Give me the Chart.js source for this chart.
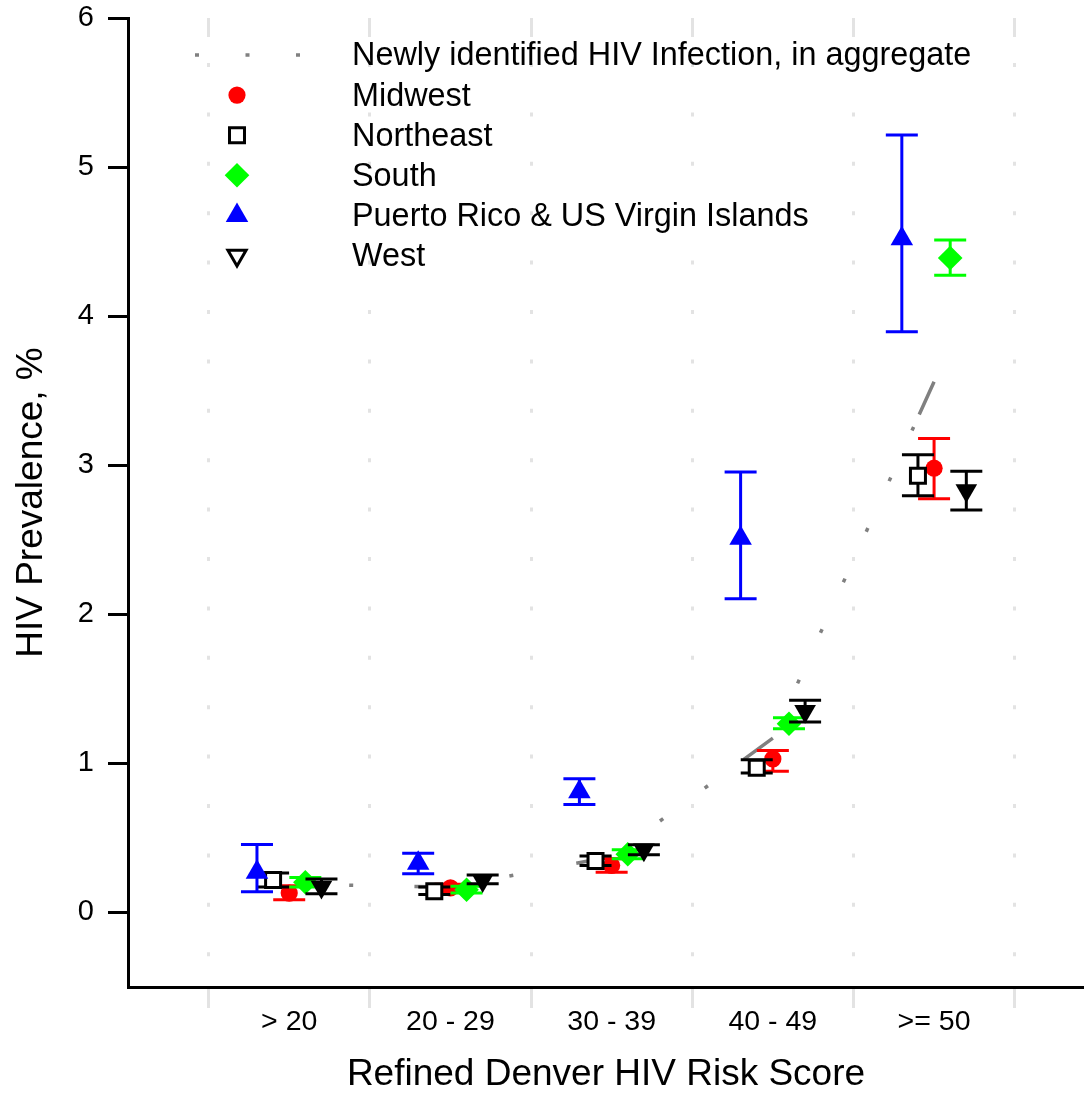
<!DOCTYPE html>
<html>
<head>
<meta charset="utf-8">
<script src="https://cdn.jsdelivr.net/npm/chart.js@4.4.1/dist/chart.umd.min.js"></script>
<style>
  html, body { margin: 0; padding: 0; background: #fff; }
</style>
</head>
<body>
<canvas id="chart" width="1084" height="1093"></canvas>
<script>
const categories = ['> 20', '20 - 29', '30 - 39', '40 - 49', '>= 50'];
const xTickValues = [0.5, 1, 1.5, 2, 2.5, 3, 3.5, 4, 4.5, 5, 5.5];
const yTickValues = [0, 1, 2, 3, 4, 5, 6];

const aggregate = [0.19, 0.17, 0.375, 1.17, 3.56];

const midwest = [0.13, 0.165, 0.315, 1.03, 2.98];
const midwestLow = [0.085, 0.14, 0.27, 0.948, 2.775];
const midwestHigh = [0.18, 0.19, 0.36, 1.087, 3.18];

const northeast = [0.218, 0.143, 0.345, 0.971, 2.93];
const northeastLow = [0.17, 0.12, 0.315, 0.935, 2.795];
const northeastHigh = [0.264, 0.17, 0.378, 1.025, 3.07];

const south = [0.203, 0.152, 0.39, 1.266, 4.39];
const southLow = [0.17, 0.13, 0.36, 1.232, 4.275];
const southHigh = [0.235, 0.175, 0.42, 1.306, 4.51];

const puertoRico = [0.27, 0.33, 0.81, 2.51, 4.52];
const puertoRicoLow = [0.139, 0.26, 0.725, 2.105, 3.895];
const puertoRicoHigh = [0.456, 0.398, 0.897, 2.955, 5.215];

const west = [0.17, 0.215, 0.42, 1.35, 2.83];
const westLow = [0.125, 0.192, 0.387, 1.277, 2.70];
const westHigh = [0.225, 0.252, 0.454, 1.423, 2.96];

Chart.defaults.font.family = "'Liberation Sans', Arial, Helvetica, sans-serif";
Chart.defaults.color = '#000';

// dotted grid: short piece at the top, then small dots
const gridDash = [19, 26];
for (let i = 0; i < 22; i++) gridDash.push(4, 45.4);

const gridColor = c => (c.tick && c.tick.value % 1 !== 0) ? '#e3e3e3' : 'rgba(0,0,0,0)';

// each segment of the aggregate line: sparse dots, then a short solid piece
function aggregateDash(ctx) {
    const len = Math.hypot(ctx.p1.x - ctx.p0.x, ctx.p1.y - ctx.p0.y);
    const solid = 36, dot = 4, step = 55.5;
    const dash = [0, 60];
    let pos = 60;
    while (pos + step + dot <= len - solid - 10) {
        dash.push(dot, step - dot);
        pos += step;
    }
    dash.push(dot, Math.max(len - solid - pos - dot, 0), solid, 2000);
    return dash;
}

function markerDataset(label, values, low, high, offset, style) {
    return {
        label: label,
        data: values.map((v, i) => ({ x: i + 1 + offset, y: v })),
        errLow: low,
        errHigh: high,
        errColor: style.stroke,
        legend: style.legend || style,
        pointStyle: style.pointStyle,
        pointRadius: style.radius,
        pointHoverRadius: style.radius,
        pointRotation: style.rotation || 0,
        pointBackgroundColor: style.fill,
        pointBorderColor: style.stroke,
        pointBorderWidth: style.borderWidth,
        order: style.order,
    };
}

const errorBarPlugin = {
    id: 'errorBars',
    beforeDatasetDraw(chart, args) {
        const ds = chart.data.datasets[args.index];
        if (!ds.errLow) return;
        const { ctx } = chart;
        const x = chart.scales.x, y = chart.scales.y;
        ctx.save();
        ctx.strokeStyle = ds.errColor;
        ctx.lineWidth = 3;
        ds.data.forEach((pt, i) => {
            const px = x.getPixelForValue(pt.x);
            const lo = y.getPixelForValue(ds.errLow[i]);
            const hi = y.getPixelForValue(ds.errHigh[i]);
            ctx.beginPath();
            ctx.moveTo(px, lo); ctx.lineTo(px, hi);
            ctx.moveTo(px - 16, lo); ctx.lineTo(px + 16, lo);
            ctx.moveTo(px - 16, hi); ctx.lineTo(px + 16, hi);
            ctx.stroke();
        });
        ctx.restore();
    }
};

const legendPlugin = {
    id: 'insideLegend',
    afterDraw(chart) {
        const ctx = chart.ctx;
        const items = chart.data.datasets.slice().sort((a, b) => a.legendRank - b.legendRank);
        ctx.save();
        items.forEach((ds, i) => {
            const y = 55 + i * 40.1;
            if (ds.showLine) {
                ctx.save();
                ctx.strokeStyle = ds.borderColor;
                ctx.lineWidth = ds.borderWidth;
                ctx.setLineDash([4, 46.5]);
                ctx.beginPath();
                ctx.moveTo(195, y);
                ctx.lineTo(301, y);
                ctx.stroke();
                ctx.restore();
            } else {
                const st = ds.legend;
                ctx.fillStyle = st.fill;
                ctx.strokeStyle = st.stroke;
                ctx.lineWidth = st.borderWidth;
                Chart.helpers.drawPoint(ctx, {
                    pointStyle: st.pointStyle,
                    radius: st.radius,
                    rotation: st.rotation || 0,
                    borderWidth: st.borderWidth
                }, 237, y);
            }
            ctx.fillStyle = '#000';
            ctx.font = "32.4px 'Liberation Sans', Arial, sans-serif";
            ctx.textBaseline = 'middle';
            ctx.textAlign = 'left';
            ctx.fillText(ds.label, 352, y + 1.5);
        });
        ctx.restore();
    }
};

const aggregateDataset = {
    label: 'Newly identified HIV Infection, in aggregate',
    data: aggregate.map((v, i) => ({ x: i + 1, y: v })),
    showLine: true,
    borderColor: '#808080',
    borderWidth: 3.5,
    borderCapStyle: 'butt',
    pointRadius: 0,
    pointHoverRadius: 0,
    segment: { borderDash: aggregateDash },
    order: 10,
    legendRank: 0,
};

const mw = markerDataset('Midwest', midwest, midwestLow, midwestHigh, 0,
    { pointStyle: 'circle', radius: 8.6, fill: '#ff0000', stroke: '#ff0000', borderWidth: 0, order: 5 });
mw.legendRank = 1;
const ne = markerDataset('Northeast', northeast, northeastLow, northeastHigh, -0.1,
    { pointStyle: 'rect', radius: 10.6, fill: '#ffffff', stroke: '#000000', borderWidth: 3, order: 4 });
ne.legendRank = 2;
const so = markerDataset('South', south, southLow, southHigh, 0.1,
    { pointStyle: 'rectRot', radius: 12.3, fill: '#00ff00', stroke: '#00ff00', borderWidth: 0, order: 3 });
so.legendRank = 3;
const pr = markerDataset('Puerto Rico & US Virgin Islands', puertoRico, puertoRicoLow, puertoRicoHigh, -0.2,
    { pointStyle: 'triangle', radius: 13, fill: '#0000ff', stroke: '#0000ff', borderWidth: 0, order: 2 });
pr.legendRank = 4;
const we = markerDataset('West', west, westLow, westHigh, 0.2,
    { pointStyle: 'triangle', radius: 12.5, rotation: 180, fill: '#000000', stroke: '#000000', borderWidth: 0, order: 1,
      legend: { pointStyle: 'triangle', radius: 10.5, rotation: 180, fill: '#ffffff', stroke: '#000000', borderWidth: 3 } });
we.legendRank = 5;

new Chart(document.getElementById('chart'), {
    type: 'scatter',
    data: { datasets: [aggregateDataset, mw, ne, so, pr, we] },
    plugins: [errorBarPlugin, legendPlugin],
    options: {
        responsive: false,
        animation: false,
        events: [],
        layout: { autoPadding: false, padding: { top: 18, left: 0, right: 0, bottom: 0 } },
        plugins: {
            legend: { display: false },
            tooltip: { enabled: false },
        },
        scales: {
            x: {
                type: 'linear',
                bounds: 'data',
                min: 0,
                max: 5.93,
                afterBuildTicks: s => { s.ticks = xTickValues.map(v => ({ value: v })); },
                afterFit: s => { s.height = 106; s.paddingLeft = 0; s.paddingRight = 0; },
                grid: {
                    color: gridColor,
                    lineWidth: 3,
                    drawTicks: true,
                    tickLength: 21,
                    tickColor: gridColor,
                    tickWidth: 3,
                    tickBorderDash: [],
                },
                border: { display: true, color: '#000', width: 3, dash: gridDash, dashOffset: 0 },
                ticks: {
                    autoSkip: false,
                    maxRotation: 0,
                    padding: 0,
                    font: { size: 28.5, lineHeight: 1 },
                    color: '#000',
                    callback: v => Number.isInteger(v) ? categories[v - 1] : '',
                },
                title: {
                    display: true,
                    text: 'Refined Denver HIV Risk Score',
                    font: { size: 37, lineHeight: 1 },
                    padding: { top: 0, bottom: 0 },
                    color: '#000',
                }
            },
            y: {
                type: 'linear',
                bounds: 'data',
                min: -0.5,
                max: 6,
                afterBuildTicks: s => { s.ticks = yTickValues.map(v => ({ value: v })); },
                afterFit: s => { s.width = 128; s.paddingTop = 0; s.paddingBottom = 0; },
                grid: {
                    drawOnChartArea: false,
                    drawTicks: true,
                    tickLength: 20,
                    tickWidth: 3,
                    tickColor: '#000',
                    color: '#000',
                    lineWidth: 3,
                },
                border: { display: true, color: '#000', width: 3 },
                ticks: {
                    padding: 14,
                    font: { size: 29, lineHeight: 1 },
                    color: '#000',
                },
                title: {
                    display: true,
                    text: 'HIV Prevalence, %',
                    font: { size: 37, lineHeight: 1 },
                    padding: { top: 13, bottom: 0 },
                    color: '#000',
                }
            }
        }
    }
});
</script>
</body>
</html>
